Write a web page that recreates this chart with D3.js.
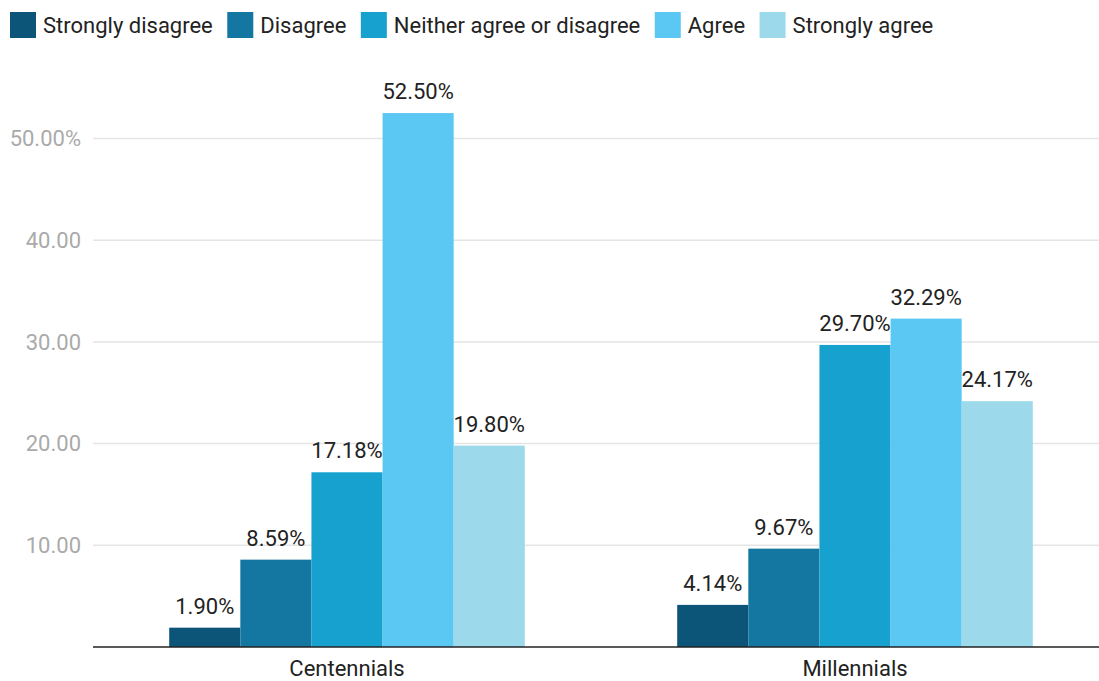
<!DOCTYPE html>
<html>
<head>
<meta charset="utf-8">
<script src="https://cdn.jsdelivr.net/npm/d3@7"></script>
<style>
  html, body { margin: 0; padding: 0; background: #fff; }
  body { width: 1099px; height: 681px; overflow: hidden; font-family: Roboto, sans-serif; }
</style>
</head>
<body>
<div id="chart"></div>
<script>
const groups = ['Centennials', 'Millennials'];
const series = ['Strongly disagree', 'Disagree', 'Neither agree or disagree', 'Agree', 'Strongly agree'];
const colors = ['#0d5479', '#1377a2', '#16a1cf', '#5bc8f4', '#9cdaeb'];
const centennials = [1.90, 8.59, 17.18, 52.50, 19.80];
const millennials = [4.14, 9.67, 29.70, 32.29, 24.17];
const yTicks = [10, 20, 30, 40, 50];

const values = {Centennials: centennials, Millennials: millennials};
const width = 1099, height = 681;
const margin = {left: 93, right: -10, top: 0, bottom: 34};
const fontSize = 22;

const svg = d3.select('#chart').append('svg')
  .attr('width', width).attr('height', height);

const x0 = d3.scaleBand()
  .domain(groups)
  .range([margin.left, width - margin.right])
  .paddingInner(0.3).paddingOuter(0.15);

const x1 = d3.scaleBand()
  .domain(series)
  .range([0, x0.bandwidth()]);

const y = d3.scaleLinear()
  .domain([0, 10])
  .range([height - margin.bottom, height - margin.bottom - 101.7]);

// gridlines
svg.append('g')
  .selectAll('line')
  .data(yTicks)
  .join('line')
  .attr('x1', margin.left)
  .attr('x2', width)
  .attr('y1', d => y(d))
  .attr('y2', d => y(d))
  .attr('stroke', '#e5e5e5')
  .attr('stroke-width', 1.5);

svg.append('g')
  .selectAll('text')
  .data(yTicks)
  .join('text')
  .attr('x', 81)
  .attr('y', d => y(d))
  .attr('dy', '0.35em')
  .attr('text-anchor', 'end')
  .attr('fill', '#aaaaaa')
  .attr('font-size', fontSize)
  .text(d => d === 50 ? d3.format('.2f')(d) + '%' : d3.format('.2f')(d));

// bars
const g = svg.append('g')
  .selectAll('g')
  .data(groups)
  .join('g')
  .attr('transform', d => `translate(${x0(d)},0)`);

g.selectAll('rect')
  .data(d => values[d].map((v, i) => ({key: series[i], v, i})))
  .join('rect')
  .attr('x', d => x1(d.key))
  .attr('width', x1.bandwidth())
  .attr('y', d => y(d.v))
  .attr('height', d => y(0) - y(d.v))
  .attr('fill', d => colors[d.i]);

g.selectAll('text')
  .data(d => values[d].map((v, i) => ({key: series[i], v, i})))
  .join('text')
  .attr('x', d => x1(d.key) + x1.bandwidth() / 2)
  .attr('y', d => y(d.v) - 14)
  .attr('text-anchor', 'middle')
  .attr('fill', '#222')
  .attr('font-size', fontSize)
  .text(d => d3.format('.2f')(d.v) + '%');

// baseline
svg.append('line')
  .attr('x1', margin.left).attr('x2', width)
  .attr('y1', y(0)).attr('y2', y(0))
  .attr('stroke', '#222')
  .attr('stroke-width', 1.5);

svg.append('g')
  .selectAll('text')
  .data(groups)
  .join('text')
  .attr('x', d => x0(d) + x0.bandwidth() / 2)
  .attr('y', y(0) + 29)
  .attr('text-anchor', 'middle')
  .attr('fill', '#222')
  .attr('font-size', fontSize)
  .text(d => d);

// legend
const legend = svg.append('g').attr('font-size', fontSize);
let lx = 10;
series.forEach((s, i) => {
  legend.append('rect')
    .attr('x', lx).attr('y', 12)
    .attr('width', 26).attr('height', 26)
    .attr('fill', colors[i]);
  const t = legend.append('text')
    .attr('x', lx + 33).attr('y', 25)
    .attr('dy', '0.35em')
    .attr('fill', '#222')
    .text(s);
  lx += 33 + t.node().getComputedTextLength() + 14.5;
});
</script>
</body>
</html>
